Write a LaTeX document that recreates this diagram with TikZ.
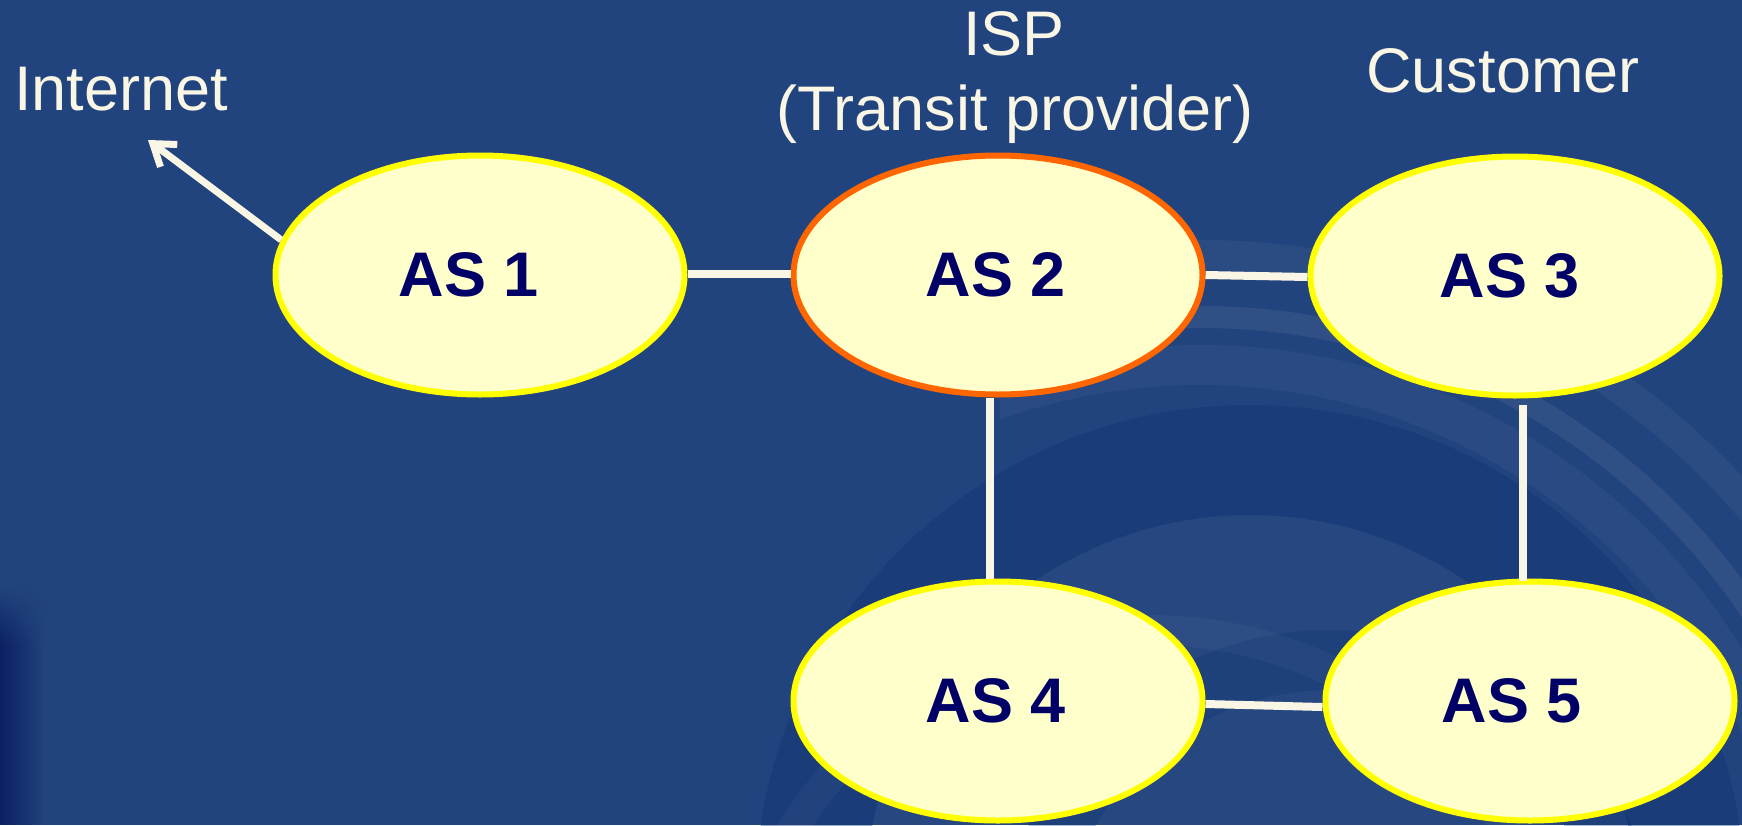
\documentclass[tikz,border=0pt]{standalone}
\usepackage{fontspec}
\setmainfont{Liberation Sans}
\usetikzlibrary{arrows.meta,shapes.geometric,calc}

\definecolor{bgblue}{HTML}{22447E}
\definecolor{bgdeep}{HTML}{0B2163}
\definecolor{bgdark}{HTML}{0E3272}
\definecolor{ascream}{HTML}{FFFFCC}
\definecolor{asyellow}{HTML}{FFFF00}
\definecolor{asorange}{HTML}{FF6600}
\definecolor{asnavy}{HTML}{000066}
\definecolor{linecream}{HTML}{FAF6E6}

\begin{document}
\begin{tikzpicture}[x=1pt,y=-1pt,
  asnode/.style={ellipse, draw=asyellow, line width=6pt, fill=ascream,
    minimum width=409pt, minimum height=239pt, inner sep=0pt},
  aslabel/.style={text=asnavy, inner sep=0pt,
    font=\fontsize{63}{70}\selectfont\bfseries},
  link/.style={draw=linecream, line width=8pt},
  caption/.style={text=linecream, inner sep=0pt, anchor=base,
    font=\fontsize{63}{70}\selectfont},
  swirl/.style={draw=white, opacity=#1},
  shade band/.style={draw=bgdark, opacity=#1},
]
\useasboundingbox (0,0) rectangle (1742,825);

% backdrop
\fill[bgblue] (0,0) rectangle (1742,825);
\begin{scope}
  \clip (0,0) rectangle (1742,825);
  % soft swirl in the lower right
  \draw[shade band=0.4, line width=110pt] (1250,900) circle[radius=440];
  \fill[white, opacity=0.02] (1250,900) circle[radius=385];
  \draw[shade band=0.3, line width=60pt] (1330,960) circle[radius=300];
  \draw[swirl=0.035, line width=30pt] (1150,1050) circle[radius=420];
  \begin{scope}
    \clip (1000,0) rectangle (1742,825);
    \draw[swirl=0.035, line width=40pt] (1200,980) circle[radius=615];
    \draw[swirl=0.06, line width=22pt] (1200,980) circle[radius=663];
    \draw[swirl=0.045, line width=30pt] (1200,980) circle[radius=725];
  \end{scope}
  % dark fringe on the left edge
  \foreach \i in {0,...,14} {
    \pgfmathtruncatemacro{\mix}{100-\i*100/15}
    \colorlet{fringe}{bgdeep!\mix!bgblue}
    \fill[top color=bgblue, bottom color=fringe] (3*\i,585) rectangle (3*\i+3.2,645);
    \fill[fringe] (3*\i,644) rectangle (3*\i+3.2,825);
  }
\end{scope}

% autonomous systems
\node[asnode, label={[aslabel, xshift=-11pt]center:AS 1}] (as1) at (480,275) {};
\node[asnode, draw=asorange, label={[aslabel, xshift=-2pt]center:AS 2}] (as2) at (998,275) {};
\node[asnode, label={[aslabel, xshift=-5pt]center:AS 3}] (as3) at (1515,276) {};
\node[asnode, label={[aslabel, xshift=-2pt]center:AS 4}] (as4) at (998,701) {};
\node[asnode, label={[aslabel, xshift=-18pt]center:AS 5}] (as5) at (1530,701) {};

% links between the systems
\draw[link] ($(as1.east)+(0,-1)$) -- ($(as2.west)+(0,-1)$);
\draw[link] ($(as2.east)+(0,0)$) -- ($(as3.west)+(0,1)$);
\draw[link] ($(as2.south)+(-8,0)$) -- ($(as4.north)+(-8,0)$);
\draw[link] ($(as3.south)+(8,6)$) -- ($(as5.north)+(-7,2)$);
\draw[link] ($(as4.east)+(0,3)$) -- ($(as5.west)+(0,6)$);

% uplink towards the rest of the Internet
\coordinate (net) at (148,140);
\draw[link, line width=7pt, -{Straight Barb[length=20pt, width=28pt]}] (as1.170) -- (net);

% captions
\node[caption] (internet) at (121,110) {Internet};
\node[caption] (isp) at (1014,55) {ISP};
\node[caption] (transit) at (1015,130) {(Transit provider)};
\node[caption] (customer) at (1503,92) {Customer};
\end{tikzpicture}
\end{document}
